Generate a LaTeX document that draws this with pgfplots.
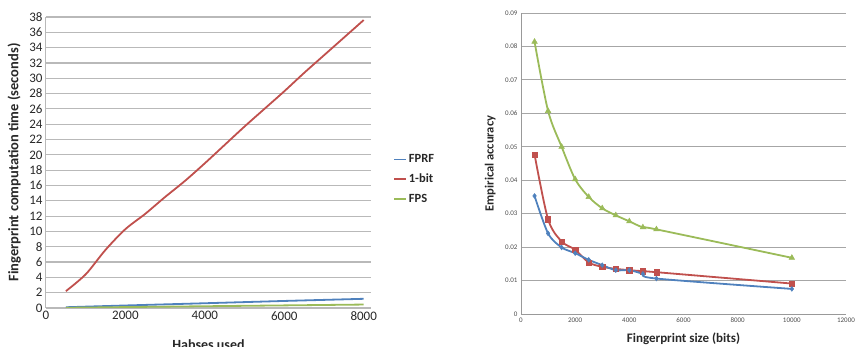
\documentclass[border=0pt]{standalone}
\usepackage{fontspec}
\setmainfont{Carlito}
\usepackage{pgfplots}
\pgfplotsset{compat=1.18}
\definecolor{xblue}{HTML}{4F81BD}
\definecolor{xred}{HTML}{C0504D}
\definecolor{xgreen}{HTML}{9BBB59}
\definecolor{xgrid}{RGB}{185,185,185}
\definecolor{xtxt}{RGB}{40,40,40}
\begin{document}
\begin{tikzpicture}
\useasboundingbox (0pt,0pt) rectangle (856pt,347pt);
\begin{axis}[
  at={(46pt,39pt)}, anchor=south west,
  scale only axis, width=325pt, height=291pt,
  xmin=0, xmax=8184, ymin=0, ymax=38,
  xtick={0,2000,...,8000}, ytick={0,2,...,38},
  scaled x ticks=false, scaled y ticks=false,
  /pgf/number format/assume math mode=true,
  /pgf/number format/1000 sep={},
  tick label style={font=\fontsize{13}{13}\selectfont, text=xtxt},
  major tick length=0pt,
  axis lines=left, axis line style={-, draw=xgrid, line width=1pt},
  ymajorgrids, grid style={draw=xgrid, line width=1.2pt},
  xlabel={Habses used}, ylabel={Fingerprint computation time (seconds)},
  every axis x label/.style={at={(axis description cs:0.5,-0.125)}, anchor=center, font=\fontsize{14}{14}\selectfont\bfseries, text=xtxt},
  every axis y label/.style={at={(axis description cs:-0.098,0.5)}, rotate=90, anchor=center, font=\fontsize{14.5}{14.5}\selectfont\bfseries, text=xtxt},
  legend style={at={(axis description cs:1.068,0.535)}, anchor=north west, draw=none, fill=none,
    font=\fontsize{12.5}{12.5}\selectfont\bfseries, text=xtxt, row sep=6pt, inner sep=0pt,
    /tikz/every even column/.append style={column sep=0pt}},
  legend cell align=left,
  legend image code/.code={\draw[#1, line width=1.6pt] (0pt,0pt) -- (12pt,0pt);},
]
\addplot[xblue, line width=1.8pt] coordinates {(500,0.10) (2000,0.33) (4000,0.62) (6000,0.92) (8000,1.20)};
\addlegendentry{FPRF}
\addplot[xred, line width=1.8pt, smooth] coordinates {
(500,2.2) (1000,4.4) (1500,7.6) (2000,10.3) (2500,12.3) (3000,14.5) (3500,16.6) (4000,18.9)
(4500,21.3) (5000,23.7) (5500,26.0) (6000,28.3) (6500,30.7) (7000,33.0) (7500,35.3) (8000,37.6)};
\addlegendentry{1-bit}
\addplot[xgreen, line width=1.8pt] coordinates {(500,0.03) (2000,0.12) (4000,0.23) (6000,0.34) (8000,0.45)};
\addlegendentry{FPS}
\end{axis}

\begin{axis}[
  at={(521pt,33pt)}, anchor=south west,
  scale only axis, width=325pt, height=301pt,
  xmin=0, xmax=12000, ymin=0, ymax=0.09,
  scaled x ticks=false, scaled y ticks=false,
  xtick={0,2000,...,12000}, xticklabels={0,2000,4000,6000,8000,10000,12000},
  ytick={0,0.01,...,0.09}, yticklabels={0,0.01,0.02,0.03,0.04,0.05,0.06,0.07,0.08,0.09},
  tick label style={font=\fontsize{7}{7}\selectfont, text=black!70},
  major tick length=0pt,
  axis lines=left, axis line style={-, draw=black!40, line width=0.8pt},
  ymajorgrids, grid style={draw=black!35, line width=0.9pt},
  xlabel={Fingerprint size (bits)}, ylabel={Empirical accuracy},
  every axis x label/.style={at={(axis description cs:0.5,-0.083)}, anchor=center, font=\fontsize{13}{13}\selectfont\bfseries, text=xtxt},
  every axis y label/.style={at={(axis description cs:-0.095,0.5)}, rotate=90, anchor=center, font=\fontsize{12.5}{12.5}\selectfont\bfseries, text=xtxt},
]
\addplot[xgreen, line width=1.8pt, smooth, mark=triangle*, mark size=3.2pt, mark options={line width=0.5pt}] coordinates {
(500,0.0814) (1000,0.0607) (1500,0.0500) (2000,0.0403) (2500,0.0350) (3000,0.0316) (3500,0.0295)
(4000,0.0277) (4500,0.0259) (5000,0.0253) (10000,0.0168)};
\addplot[xred, line width=1.8pt, smooth, mark=square*, mark size=2.6pt, mark options={line width=0.5pt}] coordinates {
(500,0.0477) (1000,0.0283) (1500,0.0217) (2000,0.0192) (2500,0.0154) (3000,0.0141) (3500,0.0135)
(4000,0.0131) (4500,0.0128) (5000,0.0125) (10000,0.0091)};
\addplot[xblue, line width=1.8pt, smooth, mark=diamond*, mark size=2.4pt, mark options={line width=0.5pt}] coordinates {
(500,0.0353) (1000,0.0241) (1500,0.0199) (2000,0.0182) (2500,0.0162) (3000,0.0146) (3500,0.0131)
(4000,0.0131) (4500,0.0120) (5000,0.0106) (10000,0.0075)};
\end{axis}
\end{tikzpicture}
\end{document}
